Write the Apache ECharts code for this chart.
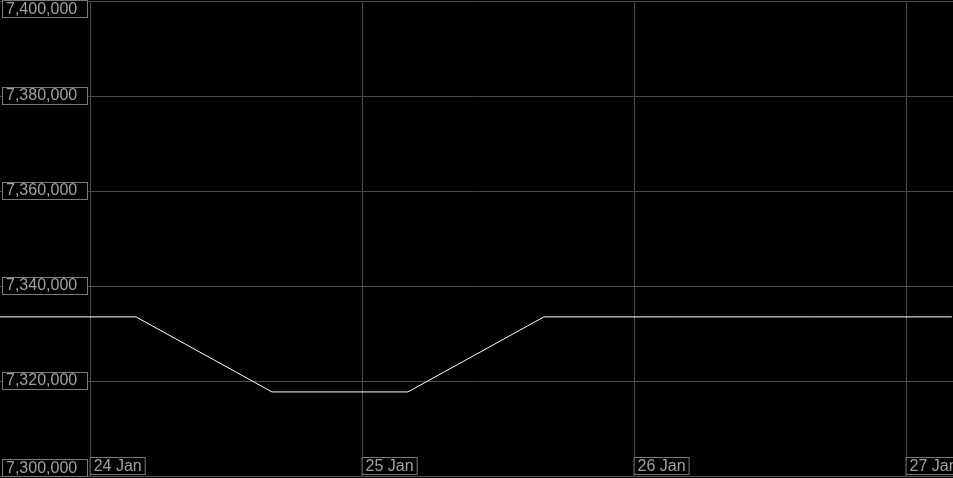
<!DOCTYPE html>
<html>
<head>
<meta charset="utf-8">
<script src="https://cdn.jsdelivr.net/npm/echarts@6/dist/echarts.min.js"></script>
<style>
html,body{margin:0;padding:0;background:#000;}
#chart{width:953px;height:478px;}
</style>
</head>
<body>
<div id="chart"></div>
<script>
const times = ['2024-01-23 16:00','2024-01-24 04:00','2024-01-24 16:00','2024-01-25 04:00','2024-01-25 16:00','2024-01-26 04:00','2024-01-26 16:00','2024-01-27 04:00'];
const values = [7333500, 7333500, 7317700, 7317700, 7333500, 7333500, 7333500, 7333500];
const months = ['Jan','Feb','Mar','Apr','May','Jun','Jul','Aug','Sep','Oct','Nov','Dec'];
const xMin = '2024-01-23 16:00';
const xMax = '2024-01-27 04:06';
const yMin = 7300000, yMax = 7400000, yStep = 20000;

function parseLocal(s){
  const [d,t] = s.split(' ');
  const [Y,M,D] = d.split('-').map(Number);
  const [h,m] = t.split(':').map(Number);
  return new Date(Y, M-1, D, h, m).getTime();
}

const chart = echarts.init(document.getElementById('chart'));
const labelBox = {
  color: '#a0a0a0',
  fontFamily: 'Liberation Sans, Arial, sans-serif',
  fontSize: 16,
  backgroundColor: '#000',
  borderColor: '#7a7a7a',
  borderWidth: 1,
  padding: [1, 3, 0, 3],
  lineHeight: 15
};
chart.setOption({
  animation: false,
  backgroundColor: '#000',
  grid: {left: 0, right: 0, top: 1, bottom: 2, containLabel: false, outerBoundsMode: 'none'},
  xAxis: {
    type: 'time',
    min: parseLocal(xMin),
    max: parseLocal(xMax),
    minInterval: 24*3600*1000,
    maxInterval: 24*3600*1000,
    axisLine: {show: true, lineStyle: {color: '#555', width: 1}},
    axisTick: {show: false},
    splitLine: {show: true, showMinLine: false, showMaxLine: false, lineStyle: {color: '#4a4a4a', width: 1}},
    axisLabel: Object.assign({}, labelBox, {
      inside: true,
      align: 'left',
      verticalAlign: 'bottom',
      margin: 2,
      hideOverlap: false,
      showMinLabel: false,
      showMaxLabel: false,
      formatter: function(v){ const d = new Date(v); return d.getDate() + ' ' + months[d.getMonth()]; }
    })
  },
  yAxis: {
    type: 'value',
    min: yMin,
    max: yMax,
    interval: yStep,
    axisLine: {show: false},
    axisTick: {show: false},
    splitLine: {show: true, lineStyle: {color: '#4a4a4a', width: 1}},
    axisLabel: Object.assign({}, labelBox, {
      inside: true,
      align: 'left',
      margin: 3,
      width: 78,
      verticalAlignMaxLabel: 'top',
      verticalAlignMinLabel: 'bottom',
      formatter: function(v){ return Number(v).toLocaleString('en-US'); }
    })
  },
  series: [{
    type: 'line',
    data: times.map((t,i) => [parseLocal(t), values[i]]),
    showSymbol: false,
    symbol: 'none',
    clip: true,
    lineStyle: {color: '#ffffff', width: 1},
    z: 3
  }]
});
</script>
</body>
</html>
